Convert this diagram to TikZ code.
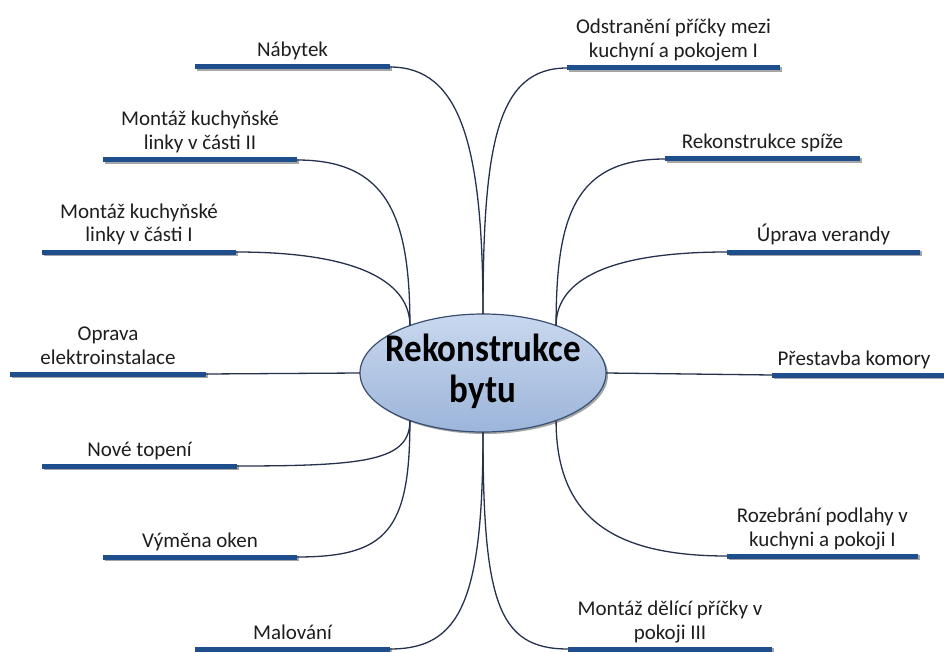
\documentclass[tikz,border=0pt]{standalone}
\usepackage{fontspec}
\usepackage{graphicx}
\setmainfont{Carlito}
\usetikzlibrary{shapes.geometric,shadows,positioning}
\definecolor{barblue}{HTML}{1F4E8C}
\definecolor{linec}{HTML}{26324D}
\definecolor{ellTop}{HTML}{C9D8EE}
\definecolor{ellBot}{HTML}{9CB5DA}
\definecolor{ellLine}{HTML}{3A4F70}
\definecolor{txt}{HTML}{1E1E1E}
\begin{document}
\begin{tikzpicture}[x=1pt,y=-1pt,
  bar/.style={rectangle, fill=barblue, inner sep=0pt, outer sep=0pt, minimum height=5pt,
    drop shadow={shadow xshift=1.5pt, shadow yshift=-1.5pt, opacity=0.35, fill=black}},
  lbl/.style={font=\fontsize{21}{24}\selectfont, text=txt, align=center, inner sep=0pt, outer sep=0pt, text depth=0pt},
  conn/.style={draw=linec, line width=1.3pt},
]
\useasboundingbox[fill=white] (0,0) rectangle (944,652);

% centre
\node[ellipse, minimum width=246pt, minimum height=118pt, top color=ellTop, bottom color=ellBot,
  draw=ellLine, line width=1.2pt, inner sep=0pt, outer sep=0pt,
  drop shadow={shadow xshift=2pt, shadow yshift=-2pt, opacity=0.35, fill=black}] (c) at (483,373) {};
\node[font=\fontsize{35}{41}\selectfont\bfseries, text=black, align=center, inner sep=0pt, text depth=0pt, anchor=south] (ct) at (483,403) {\scalebox{1}[1.12]{Rekonstrukce}\\\scalebox{1}[1.12]{bytu}};

% bars
\node[bar, minimum width=195pt] (b1) at (292.5,67) {};
\node[bar, minimum width=194pt] (b2) at (200,160) {};
\node[bar, minimum width=194pt] (b3) at (139,252) {};
\node[bar, minimum width=196pt] (b4) at (108,374) {};
\node[bar, minimum width=195pt] (b5) at (139.5,466) {};
\node[bar, minimum width=194pt] (b6) at (200,557) {};
\node[bar, minimum width=195pt] (b7) at (292.5,649) {};
\node[bar, minimum width=213pt] (b8) at (673.5,68) {};
\node[bar, minimum width=195pt] (b9) at (762.5,159) {};
\node[bar, minimum width=193pt] (b10) at (823.5,252) {};
\node[bar, minimum width=176pt] (b11) at (860,375) {};
\node[bar, minimum width=191pt] (b12) at (822.5,556) {};
\node[bar, minimum width=204pt] (b13) at (670,649) {};

% labels
\node[lbl, above=7.5pt of b1] (l1) {Nábytek};
\node[lbl, above=7.5pt of b2] (l2) {Montáž kuchyňské\\linky v části II};
\node[lbl, above=7.5pt of b3] (l3) {Montáž kuchyňské\\linky v části I};
\node[lbl, above=7.5pt of b4] (l4) {Oprava\\elektroinstalace};
\node[lbl, above=7.5pt of b5] (l5) {Nové topení};
\node[lbl, above=7.5pt of b6] (l6) {Výměna oken};
\node[lbl, above=7.5pt of b7] (l7) {Malování};
\node[lbl, above=7.5pt of b8] (l8) {Odstranění příčky mezi\\kuchyní a pokojem I};
\node[lbl, above=7.5pt of b9] (l9) {Rekonstrukce spíže};
\node[lbl, above=7.5pt of b10] (l10) {Úprava verandy};
\node[lbl, above=7.5pt of b11, xshift=-6pt] (l11) {Přestavba komory};
\node[lbl, above=7.5pt of b12] (l12) {Rozebrání podlahy v\\kuchyni a pokoji I};
\node[lbl, above=7.5pt of b13] (l13) {Montáž dělící příčky v\\pokoji III};

% connectors
\draw[conn] (b1.east) .. controls +(70,0) and +(0,-170) .. (c.north);
\draw[conn] (b8.west) .. controls +(-70,0) and +(0,-170) .. (c.north);
\draw[conn] (b2.east) .. controls +(90,0) and +(0,-110) .. (c.147);
\draw[conn] (b3.east) .. controls +(130,0) and +(0,-40) .. (c.147);
\draw[conn] (b9.west) .. controls +(-90,0) and +(0,-110) .. (c.33);
\draw[conn] (b10.west) .. controls +(-130,0) and +(0,-40) .. (c.33);
\draw[conn] (b4.east) -- (c.west);
\draw[conn] (c.east) -- (b11.west);
\draw[conn] (b5.east) .. controls +(130,0) and +(0,40) .. (c.213);
\draw[conn] (b6.east) .. controls +(90,0) and +(0,110) .. (c.213);
\draw[conn] (b7.east) .. controls +(70,0) and +(0,170) .. (c.south);
\draw[conn] (b13.west) .. controls +(-70,0) and +(0,170) .. (c.south);
\draw[conn] (b12.west) .. controls +(-110,0) and +(0,100) .. (c.327);
\end{tikzpicture}
\end{document}
